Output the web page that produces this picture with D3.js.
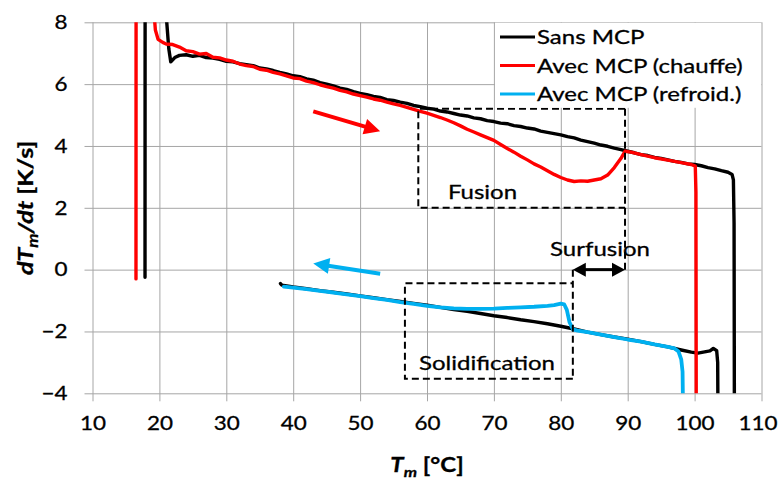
<!DOCTYPE html>
<html>
<head>
<meta charset="utf-8">
<script src="https://cdn.jsdelivr.net/npm/d3@7"></script>
<style>
  html, body { margin: 0; padding: 0; background: #fff; }
  svg { display: block; font-family: Lato, "Open Sans", sans-serif; }
  svg text { stroke: #000; stroke-width: 0.3px; }
</style>
</head>
<body>
<svg id="chart" width="780" height="480"></svg>
<script>
// ---------------- DATA ----------------
const xTicks = [10, 20, 30, 40, 50, 60, 70, 80, 90, 100, 110];
const yTicks = [-4, -2, 0, 2, 4, 6, 8];
const seriesNames = ["Sans MCP", "Avec MCP (chauffe)", "Avec MCP (refroid.)"];
const seriesColors = ["#000000", "#ff0000", "#00b0f0"];

// Sans MCP, heating [T, dT/dt]
const sansChauffe = [
  [17.85,-0.25],[17.85,-0.05],[17.9,30],[20.9,12],[21.1,8],[21.4,7.15],[21.7,6.72],[22.3,6.86],
  [23,6.93],[24,6.95],[25,6.9],[26,6.93],[27,6.86],[28,6.84],[29,6.8],[30,6.74],[31,6.72],
  [32,6.66],[33,6.63],[34,6.6],[35,6.52],[36,6.49],[37,6.44],[38,6.38],[39,6.33],[40,6.27],
  [41,6.24],[42,6.17],[43,6.13],[44,6.05],[45,6.0],[46,5.94],[47,5.87],[48,5.83],[49,5.76],
  [50,5.7],[51,5.66],[52,5.6],[53,5.57],[54,5.5],[55,5.47],[56,5.42],[57,5.38],[58,5.31],
  [59,5.27],[60,5.22],[61,5.19],[62,5.13],[63,5.1],[64,5.05],[65,5.0],[66,4.97],[67,4.91],
  [68,4.88],[69,4.82],[70,4.79],[71,4.74],[72,4.72],[73,4.66],[74,4.63],[75,4.58],[76,4.55],
  [77,4.48],[78,4.44],[79,4.4],[80,4.36],[81,4.3],[82,4.26],[83,4.19],[84,4.14],[85,4.09],
  [86,4.03],[87,3.99],[88,3.93],[89,3.88],[90,3.83],[91,3.78],[92,3.72],[93,3.69],[94,3.63],
  [95,3.6],[96,3.55],[97,3.5],[98,3.47],[99,3.42],[100,3.4],[101,3.36],[102,3.3],[103,3.26],
  [104,3.2],[105,3.15],[105.6,3.08],[105.8,2.9],[105.9,1.5],[105.95,-5]
];
// Avec MCP, heating
const avecChauffe = [
  [16.5,-0.3],[16.5,-0.05],[16.55,30],[18.8,12],[19.2,8.3],[19.4,7.75],[19.8,7.45],[20.5,7.35],
  [21,7.3],[22,7.28],[23,7.2],[24,7.08],[25,7.05],[26,6.97],[27,6.99],[28,6.87],[29,6.85],
  [30,6.78],[31,6.74],[32,6.65],[33,6.6],[34,6.57],[35,6.48],[36,6.45],[37,6.38],[38,6.33],
  [39,6.27],[40,6.2],[41,6.18],[42,6.1],[43,6.05],[44,5.98],[45,5.92],[46,5.87],[47,5.8],
  [48,5.75],[49,5.68],[50,5.63],[51,5.58],[52,5.52],[53,5.48],[54,5.42],[55,5.36],[56,5.31],
  [57,5.25],[58,5.18],[59,5.12],[60,5.06],[61,4.99],[62,4.92],[63,4.84],[64,4.75],[65,4.65],
  [66,4.54],[67,4.45],[68,4.36],[69,4.27],[70,4.18],[71,4.05],[72,3.92],[73,3.8],[74,3.67],
  [75,3.55],[76,3.42],[77,3.32],[78,3.2],[79,3.08],[80,2.98],[81,2.9],[82,2.85],[83,2.87],
  [84,2.86],[85,2.9],[86,2.94],[87,3.06],[88,3.3],[89,3.6],[89.6,3.83],[90.5,3.8],[92,3.72],
  [94,3.62],[96,3.54],[98,3.46],[99.5,3.4],[100.1,3.35],[100.2,2.5],[100.25,-5]
];
// Sans MCP, cooling
const sansRefroid = [
  [103.5,-5],[103.45,-3],[103.3,-2.62],[102.8,-2.55],[102.3,-2.63],[101.5,-2.66],[100.5,-2.7],
  [99.5,-2.67],[98,-2.6],[96,-2.5],[94,-2.42],[92,-2.33],[90,-2.25],[88,-2.18],[86,-2.1],
  [84,-2.02],[82,-1.92],[80,-1.83],[78,-1.75],[76,-1.68],[74,-1.62],[72,-1.55],[70,-1.49],
  [68,-1.42],[66,-1.35],[64,-1.29],[62,-1.22],[60,-1.15],[58,-1.09],[56,-1.03],[54,-0.97],
  [52,-0.91],[50,-0.85],[48,-0.79],[46,-0.73],[44,-0.68],[42,-0.62],[40,-0.56],[38.3,-0.5],
  [38.1,-0.45]
];
// Avec MCP, cooling
const avecRefroid = [
  [98.3,-5],[98.2,-3.3],[98.0,-2.9],[97.6,-2.65],[97,-2.55],[96,-2.5],[94,-2.42],[92,-2.33],
  [90,-2.26],[88,-2.18],[86,-2.1],[84,-2.02],[82.5,-1.97],[81.8,-1.93],[81.3,-1.7],[80.9,-1.3],
  [80.5,-1.12],[80,-1.1],[79,-1.15],[78,-1.17],[76,-1.2],[74,-1.22],[72,-1.24],[70,-1.26],
  [68,-1.27],[66,-1.27],[64,-1.25],[62,-1.22],[60,-1.17],[58,-1.11],[56,-1.05],[54,-0.98],
  [52,-0.92],[50,-0.86],[48,-0.8],[46,-0.74],[44,-0.69],[42,-0.63],[40,-0.58],[38.6,-0.55]
];

// Annotation geometry in data units
const fusionBox = { t0: 58.7, t1: 89.6, v0: 2.0, v1: 5.2 };
const solidBox = { t0: 56.7, t1: 81.8, v0: -3.53, v1: -0.44 };
const surfusion = { t0: 81.8, t1: 89.6, v: 0 };
const redArrow = { from: [43, 5.12], to: [53, 4.48] };
const blueArrow = { from: [53, -0.13], to: [43, 0.2] };

// ---------------- LAYOUT ----------------
(function () {
const svg = d3.select("#chart");
const pL = 92.5, pR = 761.5, pT = 22.3, pB = 393.3;
const x = d3.scaleLinear().domain([10, 110]).range([pL, pR]);
const y = d3.scaleLinear().domain([-4, 8]).range([pB, pT]);
const gridColor = "#a6a6a6";
const STRETCH = 1.2;

function stretch(sel, k) {
  sel.each(function () {
    const w = this.getComputedTextLength();
    if (w > 0) {
      d3.select(this).attr("textLength", w * (k || STRETCH)).attr("lengthAdjust", "spacingAndGlyphs");
    }
  });
}

// Y axis + horizontal grid
const gy = svg.append("g")
  .attr("transform", `translate(${pL - 8},0)`)
  .call(d3.axisLeft(y).tickValues(yTicks).tickSizeInner(-(pR - pL + 8)).tickSizeOuter(0).tickPadding(17)
        .tickFormat(d3.format("d")));
gy.select(".domain").remove();
gy.selectAll(".tick line").attr("stroke", gridColor).attr("stroke-width", 1);
gy.selectAll(".tick text").attr("fill", "#000").attr("font-size", 19.5).attr("font-family", "Lato").call(stretch, 1.15);

// X axis + vertical grid
const gx = svg.append("g")
  .attr("transform", `translate(0,${pB + 8})`)
  .call(d3.axisBottom(x).tickValues(xTicks).tickSizeInner(-(pB - pT + 8)).tickSizeOuter(0).tickPadding(15)
        .tickFormat(d3.format("d")));
gx.select(".domain").remove();
gx.selectAll(".tick line").attr("stroke", gridColor).attr("stroke-width", 1);
gx.selectAll(".tick text").attr("fill", "#000").attr("font-size", 19.5).attr("font-family", "Lato").call(stretch, 1.15);
gx.selectAll(".tick text").filter(d => d === 110).attr("x", -4);

// Axis titles
const xt = svg.append("text")
  .attr("x", (pL + pR) / 2).attr("y", 472)
  .attr("text-anchor", "middle").attr("font-weight", "bold").attr("font-size", 20).attr("font-family", "Lato");
xt.append("tspan").attr("font-style", "italic").text("T");
xt.append("tspan").attr("font-style", "italic").attr("font-size", 14).attr("dy", 5).text("m");
xt.append("tspan").attr("dy", -5).text(" [°C]");
xt.call(stretch);

const yt = svg.append("text")
  .attr("transform", `translate(33,${(pT + pB) / 2}) rotate(-90)`)
  .attr("text-anchor", "middle").attr("font-weight", "bold").attr("font-size", 21).attr("font-family", "Lato");
yt.append("tspan").attr("font-style", "italic").text("dT");
yt.append("tspan").attr("font-style", "italic").attr("font-size", 15).attr("dy", 5).text("m");
yt.append("tspan").attr("font-style", "italic").attr("dy", -5).text("/dt");
yt.append("tspan").text(" [K/s]");
yt.call(stretch);

// Clip for data
svg.append("clipPath").attr("id", "plotclip")
  .append("rect").attr("x", pL).attr("y", pT).attr("width", pR - pL).attr("height", pB - pT);

const line = d3.line().x(d => x(d[0])).y(d => y(d[1]));
const dataG = svg.append("g").attr("clip-path", "url(#plotclip)");
const series = [
  { data: sansRefroid, color: seriesColors[0], w: 3.4 },
  { data: avecRefroid, color: seriesColors[2], w: 3.8 },
  { data: sansChauffe, color: seriesColors[0], w: 3.4 },
  { data: avecChauffe, color: seriesColors[1], w: 3.4 }
];
dataG.selectAll("path.series").data(series).join("path")
  .attr("class", "series")
  .attr("d", d => line(d.data))
  .attr("fill", "none")
  .attr("stroke", d => d.color)
  .attr("stroke-width", d => d.w)
  .attr("stroke-linejoin", "round")
  .attr("stroke-linecap", "round");

// Dashed boxes
const dash = "7,4";
function dashed(points) {
  svg.append("path").attr("d", d3.line()(points))
    .attr("fill", "none").attr("stroke", "#000").attr("stroke-width", 2).attr("stroke-dasharray", dash);
}
dashed([[x(fusionBox.t1), y(fusionBox.v1)], [x(fusionBox.t0), y(fusionBox.v1)],
        [x(fusionBox.t0), y(fusionBox.v0)], [x(fusionBox.t1), y(fusionBox.v0)]]);
dashed([[x(fusionBox.t1), y(fusionBox.v1)], [x(fusionBox.t1), y(surfusion.v)]]);
dashed([[x(solidBox.t1), y(solidBox.v0)], [x(solidBox.t0), y(solidBox.v0)],
        [x(solidBox.t0), y(solidBox.v1)], [x(solidBox.t1), y(solidBox.v1)]]);
dashed([[x(solidBox.t1), y(surfusion.v)], [x(solidBox.t1), y(solidBox.v0)]]);

// Arrows
function arrowHead(tip, from, len, half, color) {
  const dx = tip[0] - from[0], dy = tip[1] - from[1];
  const L = Math.hypot(dx, dy), ux = dx / L, uy = dy / L;
  const bx = tip[0] - ux * len, by = tip[1] - uy * len;
  svg.append("path")
    .attr("d", d3.line()([[tip[0], tip[1]], [bx - uy * half, by + ux * half], [bx + uy * half, by - ux * half]]) + "Z")
    .attr("fill", color);
  return [bx + ux * 1, by + uy * 1];
}
function arrow(a, color, width) {
  const p0 = [x(a.from[0]), y(a.from[1])], p1 = [x(a.to[0]), y(a.to[1])];
  const base = arrowHead(p1, p0, 16, 8, color);
  svg.append("line").attr("x1", p0[0]).attr("y1", p0[1]).attr("x2", base[0]).attr("y2", base[1])
    .attr("stroke", color).attr("stroke-width", width);
}
arrow(redArrow, seriesColors[1], 4);
arrow(blueArrow, seriesColors[2], 4);

// Surfusion double arrow
{
  const pa = [x(surfusion.t0), y(surfusion.v)], pb = [x(surfusion.t1), y(surfusion.v)];
  const ba = arrowHead(pa, pb, 13, 7, "#000");
  const bb = arrowHead(pb, pa, 13, 7, "#000");
  svg.append("line").attr("x1", ba[0]).attr("y1", ba[1]).attr("x2", bb[0]).attr("y2", bb[1])
    .attr("stroke", "#000").attr("stroke-width", 3);
}

// Annotation labels
function note(txt, cx, by) {
  svg.append("text").attr("x", cx).attr("y", by).attr("text-anchor", "middle")
    .attr("font-size", 20).attr("font-family", "Lato").attr("fill", "#000").text(txt).call(stretch);
}
note("Fusion", 482.5, 199);
note("Solidification", 487, 370);
note("Surfusion", 600, 256);

// Legend
const lg = svg.append("g");
lg.append("rect").attr("x", 495).attr("y", pT + 0.5).attr("width", pR - 495 - 0.5).attr("height", 85).attr("fill", "#fff");
const items = lg.selectAll("g.item").data(seriesNames).join("g")
  .attr("class", "item")
  .attr("transform", (d, i) => `translate(500,${37 + i * 28.5})`);
items.append("line").attr("x1", 0).attr("x2", 35).attr("y1", 0).attr("y2", 0)
  .attr("stroke", (d, i) => seriesColors[i]).attr("stroke-width", 3);
items.append("text").attr("x", 37).attr("y", 7).attr("font-size", 20).attr("font-family", "Lato")
  .attr("fill", "#000").text(d => d).call(stretch);
})();
</script>
</body>
</html>
